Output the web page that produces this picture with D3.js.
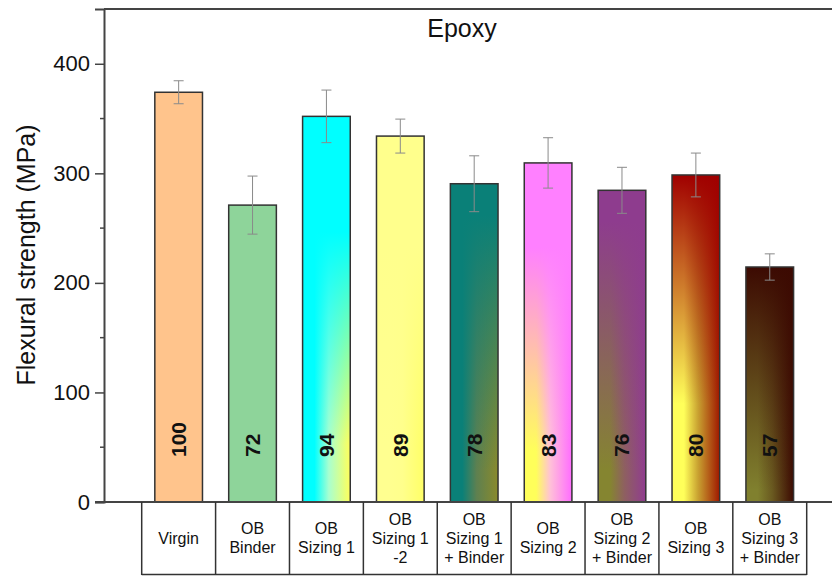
<!DOCTYPE html>
<html>
<head>
<meta charset="utf-8">
<script src="https://cdn.jsdelivr.net/npm/d3@7"></script>
<style>
    body { margin: 0; background: #fff; }
    svg { display: block; font-family: 'Liberation Sans', Arial, sans-serif; }
</style>
</head>
<body>
<div id="chart"></div>
<script>
// data
const categories = ['Virgin', 'OB Binder', 'OB Sizing 1', 'OB Sizing 1 -2', 'OB Sizing 1 + Binder',
    'OB Sizing 2', 'OB Sizing 2 + Binder', 'OB Sizing 3', 'OB Sizing 3 + Binder']
const tableLines = [['Virgin'], ['OB', 'Binder'], ['OB', 'Sizing 1'], ['OB', 'Sizing 1', '-2'],
    ['OB', 'Sizing 1', '+ Binder'], ['OB', 'Sizing 2'], ['OB', 'Sizing 2', '+ Binder'],
    ['OB', 'Sizing 3'], ['OB', 'Sizing 3', '+ Binder']]
const strength = [374, 271, 352, 334, 290.5, 309.5, 284.5, 298.5, 214.5]
const errors = [10.5, 26.5, 24, 15.5, 25.5, 23, 21, 20, 12]
const retention = ['100', '72', '94', '89', '78', '83', '76', '80', '57']
const yTicks = [0, 100, 200, 300, 400]

// fill colours: top colour fades into a left-to-right colour ramp at the bottom
const topColors = ['#ffc48c', '#8ed49a', '#00ffff', '#ffff8c', '#0a8078', '#ff80ff', '#8e3c8e', '#a00000', '#3c0a02']
const bottomRamps = [
    ['#ffc48c', '#ffc48c', '#ffc48c'],
    ['#8ed49a', '#8ed49a', '#8ed49a'],
    ['#00ffff', '#a8ffd0', '#ffff5a'],
    ['#ffff90', '#ffff8c', '#ffff66'],
    ['#0a8078', '#5e8050', '#8a8a2c'],
    ['#ffff5a', '#ffc0d8', '#ff6cff'],
    ['#858530', '#8e6060', '#903c90'],
    ['#ffff5a', '#c8a030', '#a01800'],
    ['#80802e', '#6a5a20', '#3c0a02']
]
// where (fraction of bar height) the top colour starts and finishes fading
const fadeFrom = [0, 0, 0.3, 0.3, 0.1, 0.25, 0.1, 0, 0]
const fadeTo = [1, 1, 0.85, 0.85, 0.9, 0.85, 0.9, 0.7, 0.95]

const width = 832, height = 577
const margin = { top: 9, left: 104 }
const axisY = 502

const svg = d3.select('#chart').append('svg')
    .attr('width', width)
    .attr('height', height)

const yScale = d3.scaleLinear()
    .domain([0, 450])
    .range([axisY, margin.top])

const xScale = d3.scaleBand()
    .domain(categories)
    .range([141.7, 806.7])
    .paddingInner(0.355)
    .paddingOuter(0.1775)

// gradients
const defs = svg.append('defs')
categories.forEach((c, i) => {
    const h = defs.append('linearGradient')
        .attr('id', `h${i}`)
        .attr('x1', 0).attr('x2', 1).attr('y1', 0).attr('y2', 0)
    const ramp = bottomRamps[i]
    h.append('stop').attr('offset', '0%').attr('stop-color', ramp[0])
    h.append('stop').attr('offset', '25%').attr('stop-color', ramp[0])
    h.append('stop').attr('offset', '55%').attr('stop-color', ramp[1])
    h.append('stop').attr('offset', '100%').attr('stop-color', ramp[2])

    const v = defs.append('linearGradient')
        .attr('id', `v${i}`)
        .attr('x1', 0).attr('x2', 0).attr('y1', 0).attr('y2', 1)
    v.append('stop').attr('offset', '0%').attr('stop-color', topColors[i]).attr('stop-opacity', 1)
    v.append('stop').attr('offset', fadeFrom[i]).attr('stop-color', topColors[i]).attr('stop-opacity', 1)
    v.append('stop').attr('offset', fadeTo[i]).attr('stop-color', topColors[i]).attr('stop-opacity', 0)
})

// frame: top line and left axis
svg.append('line')
    .attr('x1', margin.left).attr('x2', width)
    .attr('y1', yScale(450)).attr('y2', yScale(450))
    .attr('stroke', '#444').attr('stroke-width', 2)

const yAxis = d3.axisLeft(yScale)
    .tickValues(yTicks)
    .tickSize(9)
    .tickPadding(5)
    .tickFormat(d3.format('d'))

const yAxisG = svg.append('g')
    .attr('transform', `translate(${margin.left},0)`)
    .call(yAxis)
yAxisG.select('.domain').attr('stroke', '#444').attr('stroke-width', 2)
yAxisG.selectAll('.tick line').attr('stroke', '#444').attr('stroke-width', 1.5)
yAxisG.selectAll('.tick text')
    .attr('fill', '#111')
    .style('font-size', '22px')
    .style('font-family', "'Liberation Sans', Arial, sans-serif")

// minor ticks
svg.append('g').selectAll('line')
    .data([50, 150, 250, 350])
    .join('line')
    .attr('x1', margin.left - 4).attr('x2', margin.left)
    .attr('y1', d => yScale(d)).attr('y2', d => yScale(d))
    .attr('stroke', '#444').attr('stroke-width', 1.5)

// bars
const bars = svg.append('g')
bars.selectAll('.bar-base')
    .data(categories)
    .join('rect')
    .attr('class', 'bar-base')
    .attr('x', d => xScale(d))
    .attr('y', (d, i) => yScale(strength[i]))
    .attr('width', xScale.bandwidth())
    .attr('height', (d, i) => axisY - yScale(strength[i]))
    .attr('fill', (d, i) => `url(#h${i})`)

bars.selectAll('.bar-top')
    .data(categories)
    .join('rect')
    .attr('class', 'bar-top')
    .attr('x', d => xScale(d))
    .attr('y', (d, i) => yScale(strength[i]))
    .attr('width', xScale.bandwidth())
    .attr('height', (d, i) => axisY - yScale(strength[i]))
    .attr('fill', (d, i) => `url(#v${i})`)
    .attr('stroke', '#333')
    .attr('stroke-width', 1.5)

// error bars
const err = svg.append('g')
    .attr('stroke', '#8a8a8a')
    .attr('stroke-width', 1)
categories.forEach((c, i) => {
    const cx = xScale(c) + xScale.bandwidth() / 2
    const hi = yScale(strength[i] + errors[i])
    const lo = yScale(strength[i] - errors[i])
    err.append('line').attr('x1', cx).attr('x2', cx).attr('y1', hi).attr('y2', lo)
    err.append('line').attr('x1', cx - 5).attr('x2', cx + 5).attr('y1', hi).attr('y2', hi)
    err.append('line').attr('x1', cx - 5).attr('x2', cx + 5).attr('y1', lo).attr('y2', lo)
})

// retention labels in bars
svg.append('g').selectAll('text')
    .data(categories)
    .join('text')
    .attr('transform', d => `translate(${xScale(d) + xScale.bandwidth() / 2 + 7.5},457) rotate(-90)`)
    .attr('text-anchor', 'start')
    .style('font-size', '21px')
    .style('font-weight', 'bold')
    .attr('fill', '#111')
    .text((d, i) => retention[i])

// bottom axis line
svg.append('line')
    .attr('x1', 95).attr('x2', width)
    .attr('y1', axisY).attr('y2', axisY)
    .attr('stroke', '#444').attr('stroke-width', 2)

// category table
const step = xScale.step()
const x0 = xScale.range()[0]
const table = svg.append('g')
table.selectAll('line.col')
    .data(d3.range(categories.length + 1))
    .join('line')
    .attr('class', 'col')
    .attr('x1', i => x0 + i * step).attr('x2', i => x0 + i * step)
    .attr('y1', axisY).attr('y2', 575)
    .attr('stroke', '#333').attr('stroke-width', 1.5)
table.append('line')
    .attr('x1', x0).attr('x2', x0 + categories.length * step)
    .attr('y1', 574.5).attr('y2', 574.5)
    .attr('stroke', '#333').attr('stroke-width', 1.5)

const cellText = table.selectAll('text')
    .data(categories)
    .join('text')
    .attr('text-anchor', 'middle')
    .attr('fill', '#111')
    .style('font-size', '16px')
cellText.each(function (d, i) {
    const lines = tableLines[i]
    const cx = xScale(d) + xScale.bandwidth() / 2
    const firstY = 538 - (lines.length - 1) * 19 / 2
    d3.select(this).selectAll('tspan')
        .data(lines)
        .join('tspan')
        .attr('x', cx)
        .attr('y', (l, j) => firstY + j * 19)
        .attr('dy', '0.35em')
        .text(l => l)
})

// title
svg.append('text')
    .attr('x', 462)
    .attr('y', 37)
    .attr('text-anchor', 'middle')
    .style('font-size', '25px')
    .attr('fill', '#111')
    .text('Epoxy')

// y axis title
svg.append('text')
    .attr('transform', 'translate(35,255) rotate(-90)')
    .attr('text-anchor', 'middle')
    .style('font-size', '25px')
    .attr('fill', '#111')
    .text('Flexural strength (MPa)')
</script>
</body>
</html>
